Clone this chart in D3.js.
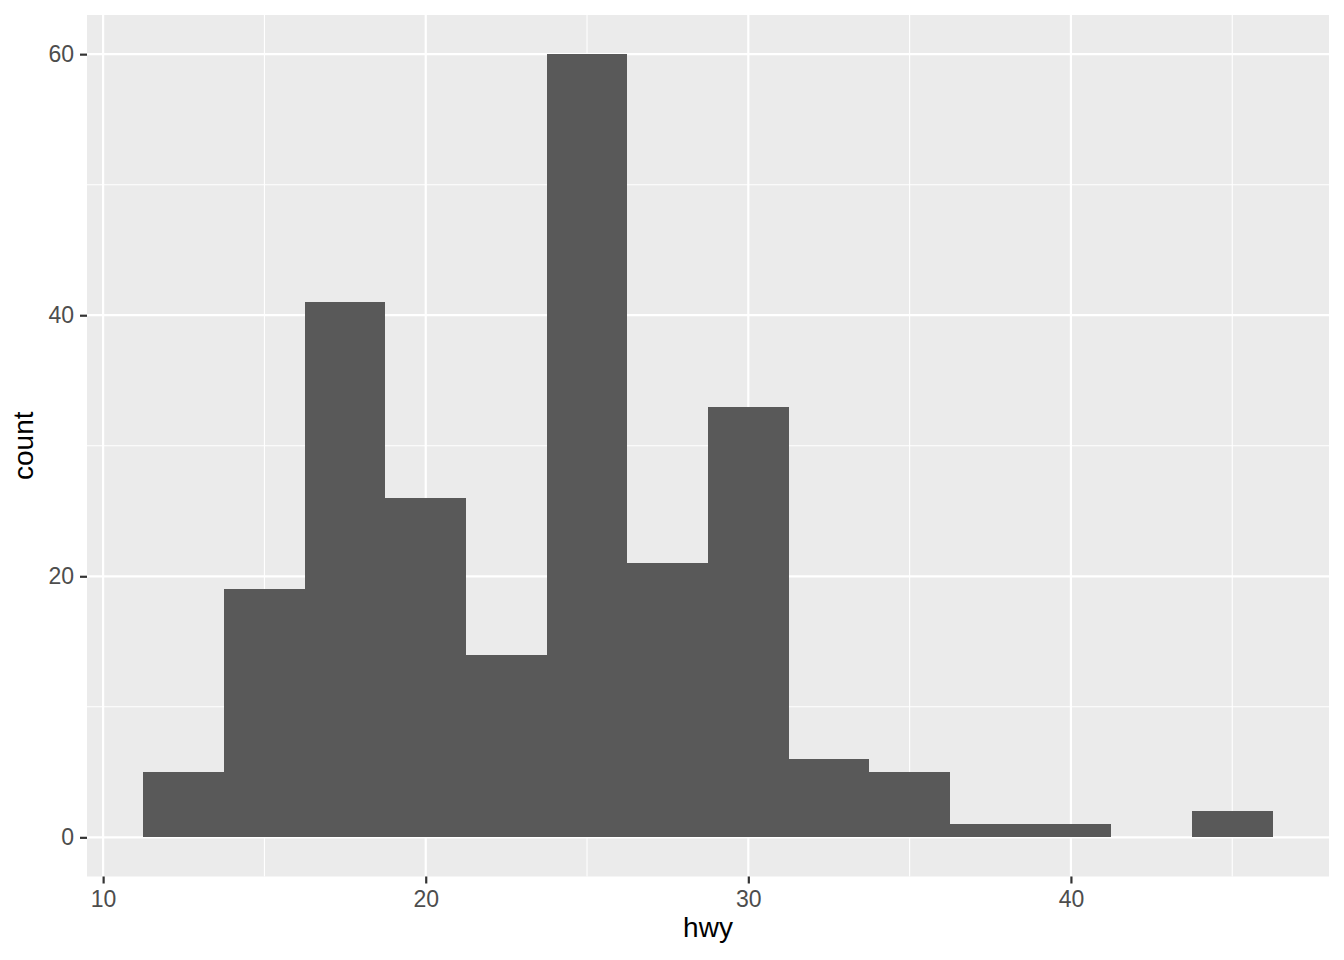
<!DOCTYPE html>
<html>
<head>
<meta charset="utf-8">
<script src="https://cdn.jsdelivr.net/npm/d3@7"></script>
<style>
  body { margin: 0; background: #fff; }
  text { font-family: "Liberation Sans", Arial, sans-serif; }
</style>
</head>
<body>
<svg id="chart" width="1344" height="960"></svg>
<script>
// hwy histogram, binwidth 2.5
var binStarts = [11.25, 13.75, 16.25, 18.75, 21.25, 23.75, 26.25, 28.75, 31.25, 33.75, 36.25, 38.75, 41.25, 43.75];
var binWidth = 2.5;
var counts = [5, 19, 41, 26, 14, 60, 21, 33, 6, 5, 1, 1, 0, 2];
var xTicks = [10, 20, 30, 40];
var xMinor = [15, 25, 35, 45];
var yTicks = [0, 20, 40, 60];
var yMinor = [10, 30, 50];

var svg = d3.select('#chart');
// panel box (window.top is reserved, so no "top" here)
var panelLeft = 87, panelRight = 1329, panelTop = 15, panelBottom = 876.5;

var x = d3.scaleLinear().domain([9.5, 48]).range([panelLeft, panelRight]);
var y = d3.scaleLinear().domain([-3, 63]).range([panelBottom, panelTop]);

svg.append('rect')
    .attr('x', panelLeft).attr('y', panelTop)
    .attr('width', panelRight - panelLeft).attr('height', panelBottom - panelTop)
    .attr('fill', '#ebebeb');

var grid = svg.append('g');
function vlines(vals, w) {
    grid.append('g').selectAll('line').data(vals).enter().append('line')
        .attr('x1', function(d) { return x(d); }).attr('x2', function(d) { return x(d); })
        .attr('y1', panelTop).attr('y2', panelBottom)
        .attr('stroke', '#fff').attr('stroke-width', w);
}
function hlines(vals, w) {
    grid.append('g').selectAll('line').data(vals).enter().append('line')
        .attr('y1', function(d) { return y(d); }).attr('y2', function(d) { return y(d); })
        .attr('x1', panelLeft).attr('x2', panelRight)
        .attr('stroke', '#fff').attr('stroke-width', w);
}
vlines(xMinor, 1.1);
hlines(yMinor, 1.1);
vlines(xTicks, 2.2);
hlines(yTicks, 2.2);

// bars: crisp edges so neighbours don't show seams
svg.append('g').attr('shape-rendering', 'crispEdges')
    .selectAll('rect').data(counts).enter().append('rect')
    .attr('x', function(d, i) { return x(binStarts[i]); })
    .attr('width', function(d, i) { return x(binStarts[i] + binWidth) - x(binStarts[i]); })
    .attr('y', function(d) { return y(d); })
    .attr('height', function(d) { return y(0) - y(d); })
    .attr('fill', '#595959');

var xAxis = svg.append('g').attr('transform', 'translate(0,' + panelBottom + ')')
    .call(d3.axisBottom(x).tickValues(xTicks).tickSize(7).tickPadding(7));
var yAxis = svg.append('g').attr('transform', 'translate(' + panelLeft + ',0)')
    .call(d3.axisLeft(y).tickValues(yTicks).tickSize(7).tickPadding(6));

[xAxis, yAxis].forEach(function(a) {
    a.select('.domain').remove();
    a.selectAll('.tick line').attr('stroke', '#333').attr('stroke-width', 2.2);
    a.selectAll('.tick text').attr('fill', '#4d4d4d').style('font-size', '23px')
        .style('font-family', '"Liberation Sans", Arial, sans-serif');
});

svg.append('text')
    .attr('x', (panelLeft + panelRight) / 2).attr('y', 937)
    .attr('text-anchor', 'middle')
    .style('font-size', '28px')
    .attr('fill', '#000')
    .text('hwy');

svg.append('text')
    .attr('transform', 'translate(33,' + ((panelTop + panelBottom) / 2) + ') rotate(-90)')
    .attr('text-anchor', 'middle')
    .style('font-size', '28px')
    .attr('fill', '#000')
    .text('count');
</script>
</body>
</html>
